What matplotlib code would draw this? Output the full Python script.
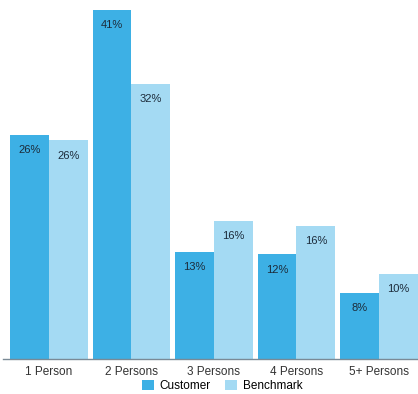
import numpy as np
import matplotlib
matplotlib.use("Agg")
import matplotlib.pyplot as plt

categories = ["1 Person", "2 Persons", "3 Persons", "4 Persons", "5+ Persons"]
customer = [26.3, 41.0, 12.6, 12.3, 7.8]
benchmark = [25.7, 32.3, 16.2, 15.6, 10.0]
series_names = ["Customer", "Benchmark"]

plt.rcParams["font.family"] = ["Liberation Sans", "DejaVu Sans"]

fig = plt.figure(figsize=(4.18, 3.94), dpi=100)
ax = fig.add_axes([3 / 418, 1 - 359 / 394, 415 / 418, 349 / 394])

x = np.arange(len(categories))
w = 0.47
cust_color = "#3db0e5"
bench_color = "#a4daf3"

b1 = ax.bar(x - w / 2, customer, width=w, color=cust_color, label=series_names[0])
b2 = ax.bar(x + w / 2, benchmark, width=w, color=bench_color, label=series_names[1])

for bars, vals in ((b1, customer), (b2, benchmark)):
    for bar, v in zip(bars, vals):
        ax.annotate(f"{round(v):d}%", (bar.get_x() + bar.get_width() / 2, v),
                    xytext=(0, -11), textcoords="offset points",
                    ha="center", va="center", fontsize=8, color="#1c2b3a")

ax.set_xlim(-0.557, 4.473)
ax.set_ylim(0, 41)
for s in ("top", "right", "left"):
    ax.spines[s].set_visible(False)
ax.spines["bottom"].set_color("#7a8a96")
ax.spines["bottom"].set_linewidth(1)
ax.set_yticks([])
ax.set_xticks(x)
ax.set_xticklabels(categories, fontsize=8.5, color="#333333")
ax.tick_params(axis="x", length=0, pad=5)

fig.legend(handles=[b1, b2], loc="center", bbox_to_anchor=(222 / 418, 1 - 386 / 394),
           ncol=2, frameon=False, fontsize=8.5, handlelength=1.0, handleheight=1.0,
           handletextpad=0.5, columnspacing=1.2, borderpad=0)

fig.savefig("out.png", dpi=100)
